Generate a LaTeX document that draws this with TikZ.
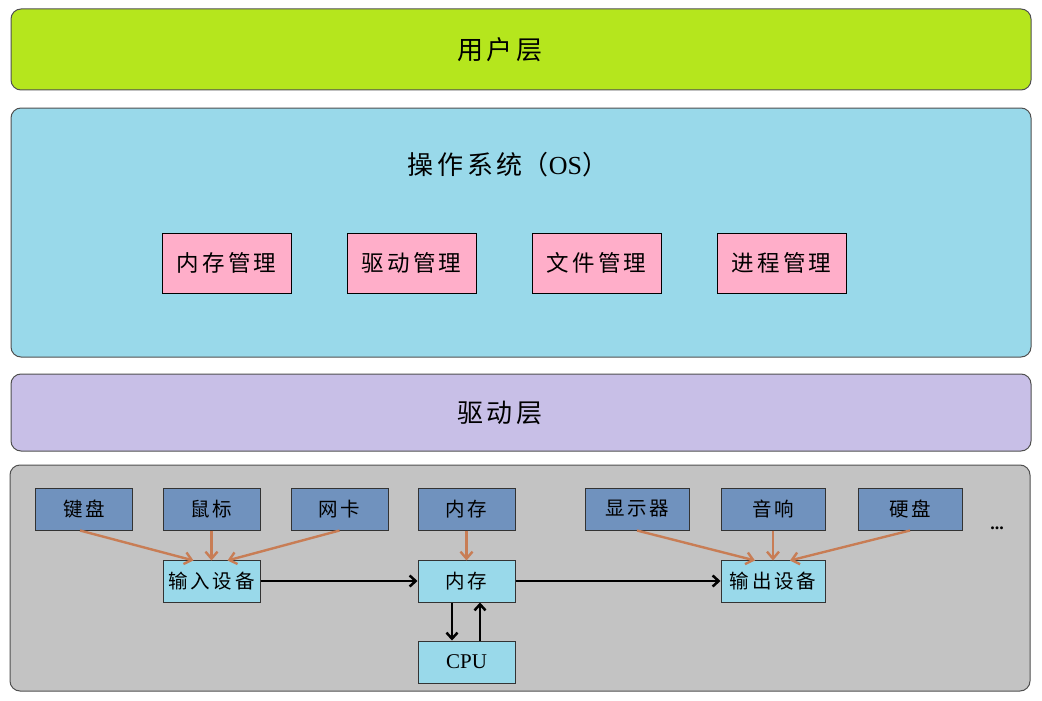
\documentclass[tikz,border=0pt]{standalone}
\usepackage{fontspec}
\setmainfont{Liberation Serif}
\newfontfamily\cjk[LetterSpace=14]{Noto Sans CJK SC}
\newfontfamily\cjkplain{Noto Sans CJK SC}
\usetikzlibrary{arrows.meta}
\definecolor{cgreen}{RGB}{181,230,29}
\definecolor{cblue}{RGB}{153,217,234}
\definecolor{cpink}{RGB}{255,174,201}
\definecolor{clav}{RGB}{200,191,231}
\definecolor{cgray}{RGB}{195,195,195}
\definecolor{csteel}{RGB}{112,146,190}
\definecolor{corange}{RGB}{200,125,85}
\definecolor{cedge}{RGB}{80,80,80}
\tikzset{
  layer/.style={draw=cedge, line width=1pt, rounded corners=10pt},
  title/.style={font=\cjk\fontsize{26}{30}\selectfont, text=black, inner sep=0pt},
  pinkbox/.style={draw=black, line width=1pt, fill=cpink, minimum width=129pt, minimum height=60pt, font=\cjk\fontsize{22.5}{26}\selectfont, inner sep=0pt},
  devbox/.style={draw=black!80, line width=1pt, fill=csteel, minimum width=97pt, minimum height=42pt, font=\cjk\fontsize{19.5}{22}\selectfont, inner sep=0pt},
  midbox/.style={draw=black!80, line width=1pt, fill=cblue, minimum width=97pt, minimum height=42pt, font=\cjk\fontsize{19.5}{22}\selectfont, inner sep=0pt},
  oarrow/.style={draw=corange, line width=2.4pt, -{Straight Barb[length=7pt,width=12pt]}},
  barrow/.style={draw=black, line width=2.5pt, -{Straight Barb[length=6pt,width=11pt]}}
}
\begin{document}
\begin{tikzpicture}[x=1pt,y=-1pt]
\useasboundingbox (0,0) rectangle (1042,701);
% layers
\path[layer, fill=cgreen] (11,9) rectangle (1031,90);
\node[title] (user) at (500,50) {用户层};
\path[layer, fill=cblue] (11,108) rectangle (1031,357);
\node[title] (os) at (508,165) {操作系统{\cjkplain （}{\fontspec{Liberation Serif}OS}{\cjkplain ）}};
\path[layer, fill=clav] (11,374) rectangle (1031,451);
\node[title] (drv) at (500,413) {驱动层};
\path[layer, fill=cgray] (10,465) rectangle (1030,691);
% OS boxes
\node[pinkbox] (mm) at (226.5,263) {内存管理};
\node[pinkbox] (dm) at (411.5,263) {驱动管理};
\node[pinkbox] (fm) at (596.5,263) {文件管理};
\node[pinkbox] (pm) at (781.5,263) {进程管理};
% devices
\node[devbox] (kb) at (84,509) {键盘};
\node[devbox] (ms) at (211.5,509) {鼠标};
\node[devbox] (nc) at (339.5,509) {网卡};
\node[devbox] (mem) at (466.5,509) {内存};
\node[devbox, minimum width=104pt] (disp) at (637,509) {显示器};
\node[devbox, minimum width=104pt] (spk) at (773,509) {音响};
\node[devbox, minimum width=104pt] (hd) at (910,509) {硬盘};
\node[font=\fontsize{18}{20}\selectfont\bfseries, inner sep=0pt] (dots) at (997,528) {...};
% middle row
\node[midbox] (in) at (211.5,581) {输入设备};
\node[midbox] (ram) at (466.5,581) {内存};
\node[midbox, minimum width=104pt] (out) at (773,581) {输出设备};
\node[midbox, font=\fontsize{21}{24}\selectfont] (cpu) at (466.5,662) {CPU};
% orange arrows
\draw[oarrow] ([xshift=-4pt]kb.south) -- ([xshift=-18pt,yshift=-1pt]in.north);
\draw[oarrow] (ms.south) -- ([yshift=-1pt]in.north);
\draw[oarrow] (nc.south) -- ([xshift=16pt,yshift=-1pt]in.north);
\draw[oarrow] (mem.south) -- ([yshift=-1pt]ram.north);
\draw[oarrow] (disp.south) -- ([xshift=-18pt,yshift=-1pt]out.north);
\draw[oarrow] (spk.south) -- ([yshift=-1pt]out.north);
\draw[oarrow] (hd.south) -- ([xshift=17pt,yshift=-1pt]out.north);
% black arrows
\draw[barrow] (in.east) -- (ram.west);
\draw[barrow] (ram.east) -- (out.west);
\draw[barrow] ([xshift=-14.5pt]ram.south) -- ([xshift=-14.5pt]cpu.north);
\draw[barrow] ([xshift=13.5pt]cpu.north) -- ([xshift=13.5pt]ram.south);
\end{tikzpicture}
\end{document}
